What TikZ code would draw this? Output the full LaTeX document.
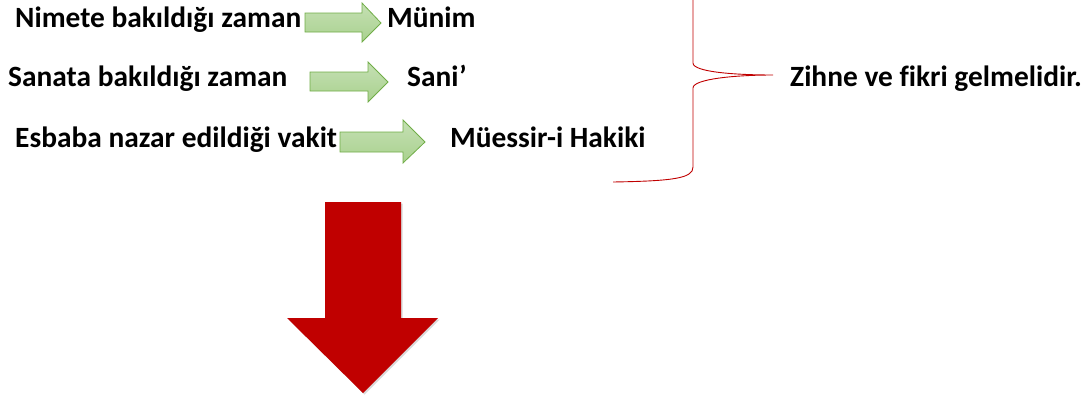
\documentclass[tikz,border=0pt]{standalone}
\usepackage{fontspec}
\setmainfont{Carlito}[Ligatures=NoCommon]
\usetikzlibrary{shadows}
\definecolor{gfill}{HTML}{A9D18E}
\definecolor{gtop}{HTML}{C5E0B4}
\definecolor{gline}{HTML}{70AD47}
\definecolor{dred}{HTML}{C00000}
\tikzset{
  lbl/.style={anchor=base west, inner sep=0pt, font=\fontsize{29.4}{34}\selectfont\bfseries},
  garrow/.style={draw=gline, line width=0.8pt, top color=gtop, bottom color=gfill},
  brace/.style={draw=dred, line width=0.9pt},
}
\begin{document}
\begin{tikzpicture}[x=1pt,y=-1pt]
\useasboundingbox (0,0) rectangle (1089,399);
% texts
\node[lbl] (t1) at (15,27) {Nimete bakıldığı zaman};
\node[lbl] (r1) at (387,27) {Münim};
\node[lbl] (t2) at (8,86) {Sanata bakıldığı zaman};
\node[lbl] (r2) at (407,86) {Sani’};
\node[lbl] (t3) at (15,147) {Esbaba nazar edildiği vakit};
\node[lbl] (r3) at (450,147) {Müessir-i Hakiki};
\node[lbl] (z) at (790,86) {Zihne ve fikri gelmelidir.};
% green block arrows
\path[garrow] (305,13) -- (362,13) -- (362,3) -- (381,23) -- (362,42) -- (362,32) -- (305,32) -- cycle;
\path[garrow] (310,72) -- (368,72) -- (368,62) -- (388,82) -- (368,102) -- (368,91) -- (310,91) -- cycle;
\path[garrow] (340,132) -- (403,132) -- (403,120) -- (425,142) -- (403,163) -- (403,152) -- (340,152) -- cycle;
% brace
\path[brace] (613,182) .. controls (675,181) and (693,178) .. (693,167) -- (693,88)
  .. controls (693,79) and (735,75) .. (773,75)
  .. controls (735,75) and (693,72) .. (693,63) -- (693,0);
% red arrow
\path[fill=dred, drop shadow={shadow xshift=1.5pt, shadow yshift=-1.5pt, opacity=0.3}]
  (325,202) -- (401,202) -- (401,318) -- (438,318) -- (363,393) -- (287,318) -- (325,318) -- cycle;
\end{tikzpicture}
\end{document}
